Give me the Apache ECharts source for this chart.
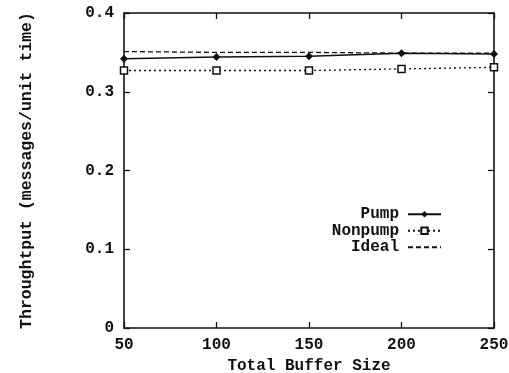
<!DOCTYPE html>
<html>
<head>
<meta charset="utf-8">
<script src="https://cdn.jsdelivr.net/npm/echarts@6/dist/echarts.min.js"></script>
<style>
  html, body { margin: 0; padding: 0; background: #fff; }
  #chart { width: 509px; height: 373px; }
</style>
</head>
<body>
<div id="chart"></div>
<script>
const bufferSizes = [50, 100, 150, 200, 250]
const pumpValues = [0.342, 0.344, 0.345, 0.349, 0.348]
const nonpumpValues = [0.327, 0.327, 0.327, 0.329, 0.331]
const idealValues = [0.351, 0.350, 0.350, 0.349, 0.349]

const ink = '#111'
const font = 'Liberation Mono'

function pairs (vals) {
  return bufferSizes.map((x, i) => [x, vals[i]])
}

const chart = echarts.init(document.getElementById('chart'))
const axisLine = { show: true, onZero: false, lineStyle: { color: ink, width: 1.6 } }
const tick = { show: true, inside: true, length: 6, lineStyle: { color: ink, width: 1.3 } }
const labelFont = { fontFamily: font, fontWeight: 'bold', fontSize: 16, color: ink }

chart.setOption({
  animation: false,
  grid: { left: 124, right: 15, top: 13, bottom: 45, outerBoundsMode: 'none', containLabel: false },
  legend: {
    orient: 'vertical',
    right: 62,
    top: 201,
    align: 'right',
    itemWidth: 33,
    itemHeight: 8,
    itemGap: 0,
    textStyle: Object.assign({ lineHeight: 16.5, padding: [0, 4, 0, 0] }, labelFont),
    data: [
      'Pump',
      'Nonpump',
      { name: 'Ideal', itemStyle: { color: 'transparent', borderWidth: 0 } }
    ]
  },
  xAxis: [
    {
      type: 'value', min: 50, max: 250, interval: 50,
      name: 'Total Buffer Size', nameLocation: 'middle', nameGap: 30,
      nameMoveOverlap: false,
      nameTextStyle: labelFont,
      axisLine: axisLine, axisTick: tick, splitLine: { show: false },
      axisLabel: Object.assign({ margin: 9 }, labelFont)
    },
    {
      type: 'value', position: 'top', min: 50, max: 250, interval: 50,
      axisLine: axisLine, axisTick: tick, splitLine: { show: false },
      axisLabel: { show: false }
    }
  ],
  yAxis: [
    {
      type: 'value', min: 0, max: 0.4, interval: 0.1,
      name: 'Throughtput (messages/unit time)', nameLocation: 'middle', nameGap: 89,
      nameMoveOverlap: false,
      nameTextStyle: Object.assign({}, labelFont, { fontSize: 16.5 }),
      axisLine: axisLine, axisTick: tick, splitLine: { show: false },
      axisLabel: Object.assign({
        margin: 10,
        formatter: v => v === 0 ? '0' : v.toFixed(1)
      }, labelFont)
    },
    {
      type: 'value', position: 'right', min: 0, max: 0.4, interval: 0.1,
      axisLine: axisLine, axisTick: tick, splitLine: { show: false },
      axisLabel: { show: false }
    }
  ],
  series: [
    {
      name: 'Pump', type: 'line', data: pairs(pumpValues),
      symbol: 'diamond', symbolSize: 8,
      itemStyle: { color: ink },
      lineStyle: { color: ink, width: 1.5, type: 'solid' }
    },
    {
      name: 'Nonpump', type: 'line', data: pairs(nonpumpValues),
      symbol: 'rect', symbolSize: 7,
      itemStyle: { color: '#fff', borderColor: ink, borderWidth: 1.5 },
      lineStyle: { color: ink, width: 1.3, type: [2, 3] }
    },
    {
      name: 'Ideal', type: 'line', data: pairs(idealValues),
      symbol: 'none',
      itemStyle: { color: ink },
      lineStyle: { color: ink, width: 1.3, type: [5, 3] }
    }
  ]
})
</script>
</body>
</html>
